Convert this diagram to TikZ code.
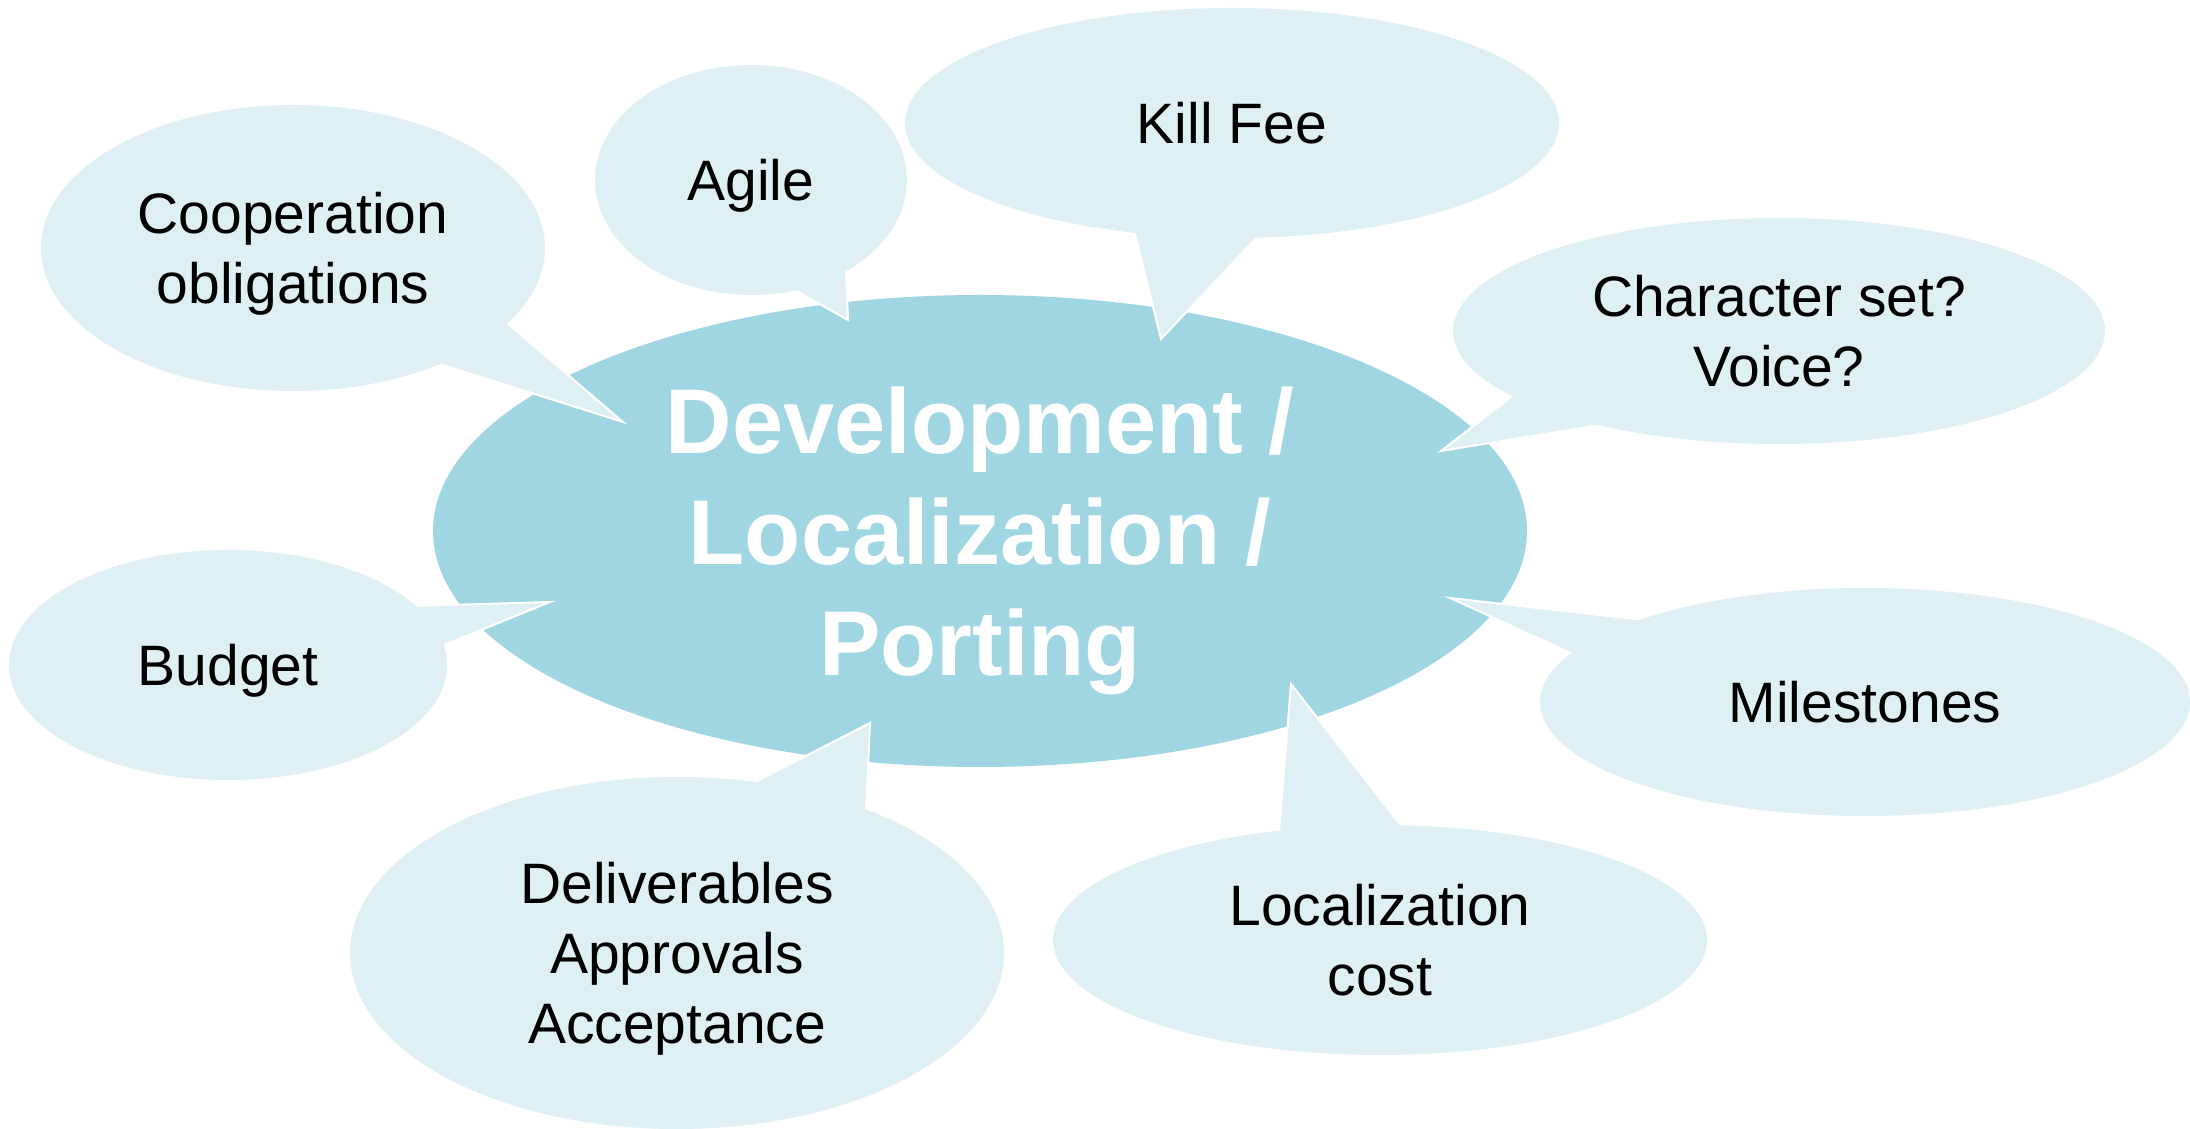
\documentclass[tikz,border=0pt]{standalone}
\usepackage{fontspec}
\setmainfont{Liberation Sans}
\usetikzlibrary{shapes.geometric}
\definecolor{mainblue}{RGB}{160,213,226}
\definecolor{lightblue}{RGB}{223,240,245}
\tikzset{
  callout/.style={ellipse, fill=lightblue, inner sep=0pt, align=center, text=black,
    text depth=0pt, font=\fontsize{57}{70}\selectfont},
  central/.style={ellipse, fill=mainblue, inner sep=0pt, align=center, text=white,
    text depth=0pt, font=\fontsize{92}{111}\selectfont\bfseries},
  pointer/.style={fill=lightblue},
  pointeredge/.style={draw=white, line width=2pt},
}
\begin{document}
\begin{tikzpicture}[x=1pt,y=1pt]
\useasboundingbox (0,0) rectangle (2190,1128);
\fill[white] (0,0) rectangle (2190,1128);

\node[central, minimum width=1094pt, minimum height=472pt] (main) at (980,597)
  {Development /\\Localization /\\Porting};

% centers
\coordinate (coopc) at (293,880);
\coordinate (agilec) at (751,948);
\coordinate (killc) at (1232,1005);
\coordinate (charc) at (1779,797);
\coordinate (milec) at (1865,426);
\coordinate (locc) at (1380,188);
\coordinate (delc) at (677,175);
\coordinate (budc) at (228,463);

% pointer points
\coordinate (coopb1) at (507,805); \coordinate (coopt) at (623,706); \coordinate (coopb2) at (443,763);
\coordinate (agileb1) at (846,860); \coordinate (agilet) at (848,808); \coordinate (agileb2) at (793,839);
\coordinate (killb1) at (1134,898); \coordinate (killt) at (1161,789); \coordinate (killb2) at (1258,892);
\coordinate (charb1) at (1511,731); \coordinate (chart) at (1441,677); \coordinate (charb2) at (1599,703);
\coordinate (mileb1) at (1643,508); \coordinate (milet) at (1450,530); \coordinate (mileb2) at (1573,474);
\coordinate (locb1) at (1279,296); \coordinate (loct) at (1291,444); \coordinate (locb2) at (1402,301);
\coordinate (delb1) at (751,344); \coordinate (delt) at (870,405); \coordinate (delb2) at (866,318);
\coordinate (budb1) at (416,522); \coordinate (budt) at (550,526); \coordinate (budb2) at (444,483);

\foreach \n in {coop,agile,kill,char,mile,loc,del,bud}{
  \fill[pointer] (\n b1) -- (\n t) -- (\n b2) -- (\n c) -- cycle;
  \draw[pointeredge] (\n b1) -- (\n t) -- (\n b2);
}

\node[callout, minimum width=504pt, minimum height=286pt] (coop) at (coopc) {Cooperation\\obligations};
\node[callout, minimum width=312pt, minimum height=230pt] (agile) at (agilec) {Agile};
\node[callout, minimum width=654pt, minimum height=230pt] (kill) at (killc) {Kill Fee};
\node[callout, minimum width=652pt, minimum height=226pt] (char) at (charc) {Character set?\\Voice?};
\node[callout, minimum width=650pt, minimum height=228pt] (mile) at (milec) {Milestones};
\node[callout, minimum width=654pt, minimum height=230pt] (loc) at (locc) {Localization\\cost};
\node[callout, minimum width=654pt, minimum height=352pt] (del) at (delc) {Deliverables\\Approvals\\Acceptance};
\node[callout, minimum width=438pt, minimum height=230pt] (bud) at (budc) {Budget};
\end{tikzpicture}
\end{document}
